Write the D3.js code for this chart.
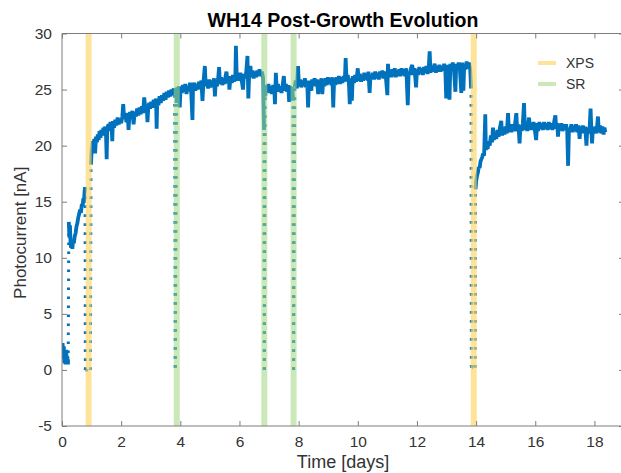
<!DOCTYPE html>
<html>
<head>
<meta charset="utf-8">
<script src="https://cdn.jsdelivr.net/npm/d3@7"></script>
<style>
  html, body { margin: 0; padding: 0; background: #fff; }
  svg { display: block; font-family: "Liberation Sans", Arial, Helvetica, sans-serif; }
</style>
</head>
<body>
<svg id="chart" width="621" height="473"></svg>
<script>
// Photocurrent record [t (days), I (nA)] — continuous runs between interruptions
const runA = [[0.02,2.4],[0.04,1.0],[0.06,2.1],[0.08,0.6],[0.10,1.4],[0.12,0.5],[0.14,1.8],[0.16,0.9],[0.18,1.2],[0.20,0.5],[0.21,0.7]];
const runB = [[0.23,13.2],[0.25,11.8],[0.27,12.9],[0.29,11.2],[0.31,10.9],[0.33,11.6],[0.35,10.8],[0.37,11.4],[0.40,11.3],[0.43,11.9],[0.46,12.2],[0.49,12.8],[0.52,13.1],[0.55,13.6],[0.58,13.9],[0.61,14.3],[0.64,14.0],[0.67,14.8],[0.70,14.6],[0.72,15.3],[0.74,14.9],[0.76,15.8],[0.78,16.3]];
const runC = [[0.98,18.3],[1.00,19.5],[1.02,19.9],[1.04,20.4],[1.06,19.8],[1.09,20.6],[1.12,19.3],[1.15,20.8],[1.18,20.3],[1.21,21.0],[1.24,20.5],[1.27,21.3],[1.30,20.7],[1.33,21.4],[1.36,20.9],[1.40,21.6],[1.43,21.0],[1.46,21.7],[1.49,20.8],[1.51,18.8],[1.53,21.5],[1.57,21.9],[1.60,21.3],[1.64,22.1],[1.68,21.5],[1.70,20.4],[1.72,22.2],[1.76,21.6],[1.80,22.3],[1.84,21.8],[1.88,22.5],[1.92,21.9],[1.96,22.4],[2.00,22.0],[2.04,22.6],[2.07,23.7],[2.10,22.4],[2.14,22.8],[2.18,22.1],[2.22,22.9],[2.25,21.4],[2.27,22.3],[2.30,23.0],[2.34,22.4],[2.38,23.1],[2.42,21.9],[2.46,23.0],[2.50,22.6],[2.54,23.3],[2.58,22.7],[2.62,23.4],[2.66,22.8],[2.70,23.5],[2.74,22.9],[2.78,24.3],[2.82,23.2],[2.86,23.6],[2.89,22.1],[2.92,23.5],[2.95,23.8],[2.98,23.3],[3.02,23.9],[3.06,23.4],[3.10,24.1],[3.14,23.5],[3.18,24.2],[3.20,21.5],[3.22,24.0],[3.26,23.6],[3.30,24.4],[3.34,23.8],[3.38,24.5],[3.42,24.0],[3.46,24.7],[3.50,24.1],[3.54,24.8],[3.58,24.3],[3.62,24.9],[3.66,24.4],[3.70,25.0],[3.74,24.5],[3.78,25.1],[3.81,24.6]];
const runD = [[3.87,23.8],[3.89,25.2],[3.92,24.6],[3.95,25.3],[3.98,23.4],[4.01,25.1],[4.05,24.7],[4.09,25.4],[4.13,24.8],[4.17,25.5],[4.21,24.6],[4.25,25.3],[4.29,24.9],[4.33,25.6],[4.37,24.7],[4.41,22.3],[4.43,25.2],[4.47,25.6],[4.51,24.9],[4.55,25.5],[4.59,25.0],[4.63,25.7],[4.67,25.1],[4.71,25.8],[4.75,24.0],[4.78,25.6],[4.83,27.1],[4.86,25.3],[4.90,25.8],[4.94,25.1],[4.98,25.9],[5.02,25.2],[5.06,25.8],[5.10,25.3],[5.14,26.0],[5.17,24.4],[5.20,25.8],[5.24,25.3],[5.28,26.0],[5.31,27.0],[5.34,25.5],[5.38,26.1],[5.42,25.4],[5.46,26.0],[5.50,25.5],[5.53,26.2],[5.56,26.6],[5.60,25.6],[5.64,26.1],[5.66,25.0],[5.70,26.2],[5.74,25.6],[5.78,26.3],[5.82,25.7],[5.86,26.2],[5.88,28.9],[5.91,25.8],[5.95,26.4],[5.99,25.8],[6.03,26.5],[6.07,25.9],[6.12,25.0],[6.15,26.4],[6.19,26.0],[6.23,26.6],[6.27,28.0],[6.30,24.2],[6.33,26.5],[6.37,27.1],[6.40,26.1],[6.44,26.7],[6.48,26.0],[6.52,26.6],[6.56,26.1],[6.60,26.7],[6.64,26.2],[6.68,26.8],[6.72,26.2],[6.76,26.6],[6.80,26.0],[6.83,21.4]];
const runE = [[6.87,24.4],[6.90,25.4],[6.94,24.8],[6.98,25.5],[7.02,24.7],[7.06,25.3],[7.10,24.6],[7.14,25.4],[7.18,24.9],[7.20,23.7],[7.23,26.5],[7.26,25.0],[7.30,25.5],[7.34,24.8],[7.38,25.3],[7.42,24.7],[7.46,25.4],[7.50,26.2],[7.53,24.9],[7.57,25.5],[7.61,24.8],[7.65,25.4],[7.68,23.9],[7.71,25.3],[7.75,24.8],[7.79,25.2],[7.81,24.0]];
const runF = [[7.87,25.2],[7.90,25.8],[7.94,25.1],[7.98,27.1],[8.01,25.3],[8.05,25.9],[8.09,25.2],[8.13,25.8],[8.17,25.3],[8.21,26.0],[8.25,25.2],[8.29,25.7],[8.32,23.4],[8.35,25.8],[8.39,25.3],[8.43,24.9],[8.46,25.9],[8.50,25.4],[8.54,26.0],[8.58,25.3],[8.62,25.9],[8.66,24.6],[8.69,25.8],[8.73,25.4],[8.77,26.0],[8.80,24.6],[8.83,25.7],[8.87,25.3],[8.91,26.0],[8.95,25.4],[8.99,26.1],[9.03,25.5],[9.07,26.0],[9.11,25.4],[9.14,26.1],[9.17,23.4],[9.20,25.9],[9.24,25.4],[9.28,26.1],[9.32,25.5],[9.36,26.2],[9.40,25.5],[9.44,26.1],[9.48,25.6],[9.52,26.2],[9.56,25.7],[9.59,27.8],[9.62,25.8],[9.66,26.3],[9.70,25.6],[9.73,23.7],[9.76,26.0],[9.80,24.0],[9.83,26.2],[9.87,25.6],[9.91,26.3],[9.95,25.7],[10.00,26.9],[10.03,25.8],[10.07,26.4],[10.11,25.7],[10.14,26.2],[10.18,25.8],[10.22,26.5],[10.26,25.9],[10.30,26.4],[10.33,25.8],[10.36,26.6],[10.40,24.7],[10.43,26.3],[10.47,25.9],[10.51,26.5],[10.55,25.9],[10.59,26.6],[10.63,26.0],[10.67,26.5],[10.71,25.9],[10.75,26.6],[10.79,26.1],[10.83,26.7],[10.87,26.0],[10.91,26.6],[10.95,26.1],[11.00,24.5],[11.02,27.3],[11.05,26.2],[11.09,26.7],[11.13,26.1],[11.17,26.8],[11.21,26.2],[11.25,26.9],[11.28,26.1],[11.32,26.7],[11.36,26.2],[11.40,26.8],[11.44,26.2],[11.48,26.9],[11.52,26.3],[11.56,26.8],[11.60,26.2],[11.64,26.9],[11.69,23.6],[11.72,26.6],[11.76,26.3],[11.80,26.9],[11.84,27.2],[11.88,26.3],[11.92,26.9],[11.97,25.2],[12.00,26.8],[12.04,26.3],[12.08,27.0],[12.12,26.4],[12.16,26.9],[12.20,26.3],[12.24,27.0],[12.28,26.5],[12.32,27.1],[12.36,26.4],[12.40,27.0],[12.43,28.4],[12.46,26.5],[12.50,27.1],[12.54,26.6],[12.60,27.3],[12.64,26.5],[12.68,27.1],[12.72,26.6],[12.76,27.2],[12.80,26.6],[12.84,27.1],[12.88,26.7],[12.92,27.3],[12.96,26.7],[12.99,24.2],[13.02,27.2],[13.06,26.7],[13.10,24.1],[13.13,27.3],[13.17,26.8],[13.21,27.4],[13.25,26.8],[13.30,24.8],[13.33,27.3],[13.37,26.8],[13.41,27.4],[13.45,26.9],[13.50,24.7],[13.53,27.4],[13.57,24.9],[13.60,27.3],[13.64,26.8],[13.68,27.5],[13.72,26.9],[13.76,27.4],[13.80,26.8],[13.83,25.1]];
const runG = [[13.98,16.1],[14.00,16.8],[14.03,17.3],[14.06,17.6],[14.09,18.1],[14.12,18.0],[14.15,18.6],[14.18,18.8],[14.21,19.0],[14.24,19.3],[14.27,19.1],[14.31,22.8],[14.33,19.6],[14.36,20.3],[14.39,19.7],[14.42,20.4],[14.46,20.0],[14.50,20.9],[14.54,20.3],[14.57,21.6],[14.60,20.5],[14.64,21.2],[14.68,20.6],[14.72,21.4],[14.76,20.8],[14.80,21.5],[14.85,22.2],[14.88,20.9],[14.92,21.6],[14.96,21.0],[15.00,21.7],[15.04,21.1],[15.08,22.9],[15.11,21.2],[15.15,21.8],[15.19,21.2],[15.23,21.9],[15.27,21.3],[15.31,21.8],[15.36,22.9],[15.39,21.3],[15.43,21.9],[15.47,20.2],[15.50,21.8],[15.54,21.3],[15.58,22.0],[15.62,23.8],[15.65,21.4],[15.69,22.0],[15.73,21.3],[15.79,22.5],[15.82,21.4],[15.86,22.0],[15.90,21.4],[15.94,22.1],[15.98,21.5],[16.03,20.5],[16.06,22.0],[16.10,21.3],[16.14,22.1],[16.18,21.5],[16.22,22.0],[16.26,21.4],[16.30,22.1],[16.34,21.5],[16.38,22.0],[16.42,21.4],[16.46,22.1],[16.50,21.5],[16.54,22.0],[16.58,21.4],[16.63,22.0],[16.68,22.7],[16.71,21.5],[16.74,22.0],[16.77,20.8],[16.80,21.9],[16.84,21.4],[16.88,22.0],[16.92,21.3],[16.96,21.9],[17.00,21.4],[17.04,21.9],[17.08,21.3],[17.11,18.2],[17.14,21.6],[17.18,21.3],[17.22,21.9],[17.26,21.2],[17.30,21.8],[17.34,21.3],[17.38,21.9],[17.42,21.2],[17.46,21.8],[17.50,20.6],[17.53,21.7],[17.57,21.2],[17.61,21.8],[17.65,21.1],[17.69,21.7],[17.73,20.0],[17.76,21.6],[17.80,21.1],[17.84,21.7],[17.87,23.3],[17.90,21.2],[17.92,20.2],[17.95,21.6],[17.99,21.1],[18.03,21.7],[18.07,21.1],[18.12,22.6],[18.15,21.2],[18.19,21.8],[18.23,21.1],[18.27,21.7],[18.31,21.0],[18.34,21.6],[18.37,21.2]];
const runs = [runA, runB, runC, runD, runE, runF, runG];

// Interruptions: drops to zero, zero-current holds and recoveries (drawn dotted)
const drops = [[[0.78,16.3],[0.79,0.0]], [[3.81,24.6],[3.83,0.2]], [[6.83,21.4],[6.84,0.0]], [[7.81,24.0],[7.83,0.0]], [[13.83,25.1],[13.84,0.2]]];
const holds = [[[0.79,0.0],[0.84,0.0],[0.89,0.2],[0.96,0.0]], [[13.84,0.2],[13.90,0.3],[13.97,0.2]]];
const rises = [[[0.21,0.7],[0.23,13.2]], [[0.96,0.0],[0.98,18.3]], [[3.83,0.2],[3.87,23.8]], [[6.84,0.0],[6.87,24.4]], [[7.83,0.0],[7.87,25.2]], [[13.97,0.2],[13.98,16.1]]];

// Characterisation events (days)
const xpsTimes = [0.9, 13.92];
const srTimes = [3.88, 6.84, 7.83];

// Axis ticks and labels
const xTicks = [0, 2, 4, 6, 8, 10, 12, 14, 16, 18];
const yTicks = [-5, 0, 5, 10, 15, 20, 25, 30];
const titleText = "WH14 Post-Growth Evolution";
const xLabel = "Time [days]";
const yLabel = "Photocurrent [nA]";
const legendItems = [{ name: "XPS", color: "rgba(253,214,102,0.65)" }, { name: "SR", color: "rgba(160,215,125,0.55)" }];

const svg = d3.select("#chart");
const x = d3.scaleLinear().domain([0, 19]).range([62, 624]);
const y = d3.scaleLinear().domain([-5, 30]).range([426, 33.5]);
const axisColor = "#7d7d7d";
const textColor = "#333333";
const lineBlue = "#0072BD";

svg.append("defs").append("clipPath").attr("id", "plotClip")
  .append("rect").attr("x", x(0)).attr("y", y(30)).attr("width", x(19) - x(0)).attr("height", y(-5) - y(30));

const plot = svg.append("g").attr("clip-path", "url(#plotClip)");
const line = d3.line().x(d => x(d[0])).y(d => y(d[1]));

// dotted connectors; vertical pieces start at the low end so dot phases line up
const lowFirst = seg => seg[0][1] <= seg[seg.length - 1][1] ? seg : seg.slice().reverse();
const dotted = [...drops.map(lowFirst), ...rises.map(lowFirst), ...holds];
plot.selectAll("path.gap").data(dotted).join("path")
  .attr("class", "gap")
  .attr("d", line)
  .attr("fill", "none")
  .attr("stroke", lineBlue)
  .attr("stroke-width", 3)
  .attr("stroke-dasharray", "2.6 6.4");

// continuous measurement runs
plot.selectAll("path.run").data(runs).join("path")
  .attr("class", "run")
  .attr("d", line)
  .attr("fill", "none")
  .attr("stroke", lineBlue)
  .attr("stroke-width", 3.8)
  .attr("stroke-linejoin", "miter")
  .attr("stroke-miterlimit", 2);

// event bands, semi-transparent over the data
const bandW = 6;
plot.selectAll("rect.xps").data(xpsTimes).join("rect")
  .attr("x", d => x(d) - bandW / 2).attr("y", y(30))
  .attr("width", bandW).attr("height", y(-5) - y(30))
  .attr("fill", legendItems[0].color);
plot.selectAll("rect.sr").data(srTimes).join("rect")
  .attr("x", d => x(d) - bandW / 2).attr("y", y(30))
  .attr("width", bandW).attr("height", y(-5) - y(30))
  .attr("fill", legendItems[1].color);

// axes: box with inward ticks on all sides
const tickLen = 5;
const axes = svg.append("g");
const fmt = d => String(d);
const xAxisB = d3.axisBottom(x).tickValues(xTicks).tickSize(-tickLen).tickPadding(10).tickFormat(fmt);
const xAxisT = d3.axisTop(x).tickValues(xTicks).tickSize(-tickLen).tickFormat("");
const yAxisL = d3.axisLeft(y).tickValues(yTicks).tickSize(-tickLen).tickPadding(10).tickFormat(fmt);
const yAxisR = d3.axisRight(y).tickValues(yTicks).tickSize(-tickLen).tickFormat("");

function styleAxis(g) {
  g.select(".domain").attr("stroke", axisColor).attr("stroke-width", 1);
  g.selectAll(".tick line").attr("stroke", axisColor);
  g.selectAll(".tick text").attr("fill", textColor).style("font-size", "15.5px");
}
axes.append("g").attr("transform", `translate(0,${y(-5)})`).call(xAxisB).call(styleAxis).call(g => g.select(".domain").attr("d", `M${x(0)},0H${x(19)}`));
axes.append("g").attr("transform", `translate(0,${y(30)})`).call(xAxisT).call(styleAxis).call(g => g.select(".domain").attr("d", `M${x(0)},0H${x(19)}`));
axes.append("g").attr("transform", `translate(${x(0)},0)`).call(yAxisL).call(styleAxis).call(g => g.select(".domain").attr("d", `M0,${y(-5)}V${y(30)}`));
axes.append("g").attr("transform", `translate(${x(19)},0)`).call(yAxisR).call(styleAxis).call(g => g.select(".domain").attr("d", `M0,${y(-5)}V${y(30)}`));

// title and axis labels
svg.append("text").attr("x", (x(0) + x(19)) / 2).attr("y", 27)
  .attr("text-anchor", "middle").attr("font-weight", "bold").attr("font-size", 19.5)
  .attr("fill", "#000").text(titleText);
svg.append("text").attr("x", (x(0) + x(19)) / 2).attr("y", 468)
  .attr("text-anchor", "middle").attr("font-size", 18).attr("fill", textColor).text(xLabel);
svg.append("text").attr("transform", `translate(26,${(y(30) + y(-5)) / 2 + 3}) rotate(-90)`)
  .attr("text-anchor", "middle").attr("font-size", 17).attr("fill", textColor).text(yLabel);

// legend
const legend = svg.append("g").attr("transform", "translate(538,63)");
legendItems.forEach((it, i) => {
  const row = legend.append("g").attr("transform", `translate(0,${i * 21})`);
  row.append("line").attr("x1", 0).attr("x2", 18).attr("y1", 0).attr("y2", 0)
    .attr("stroke", it.color).attr("stroke-width", 4);
  row.append("text").attr("x", 28).attr("y", 0).attr("dy", "0.35em")
    .attr("font-size", 14).attr("fill", textColor).text(it.name);
});
</script>
</body>
</html>
